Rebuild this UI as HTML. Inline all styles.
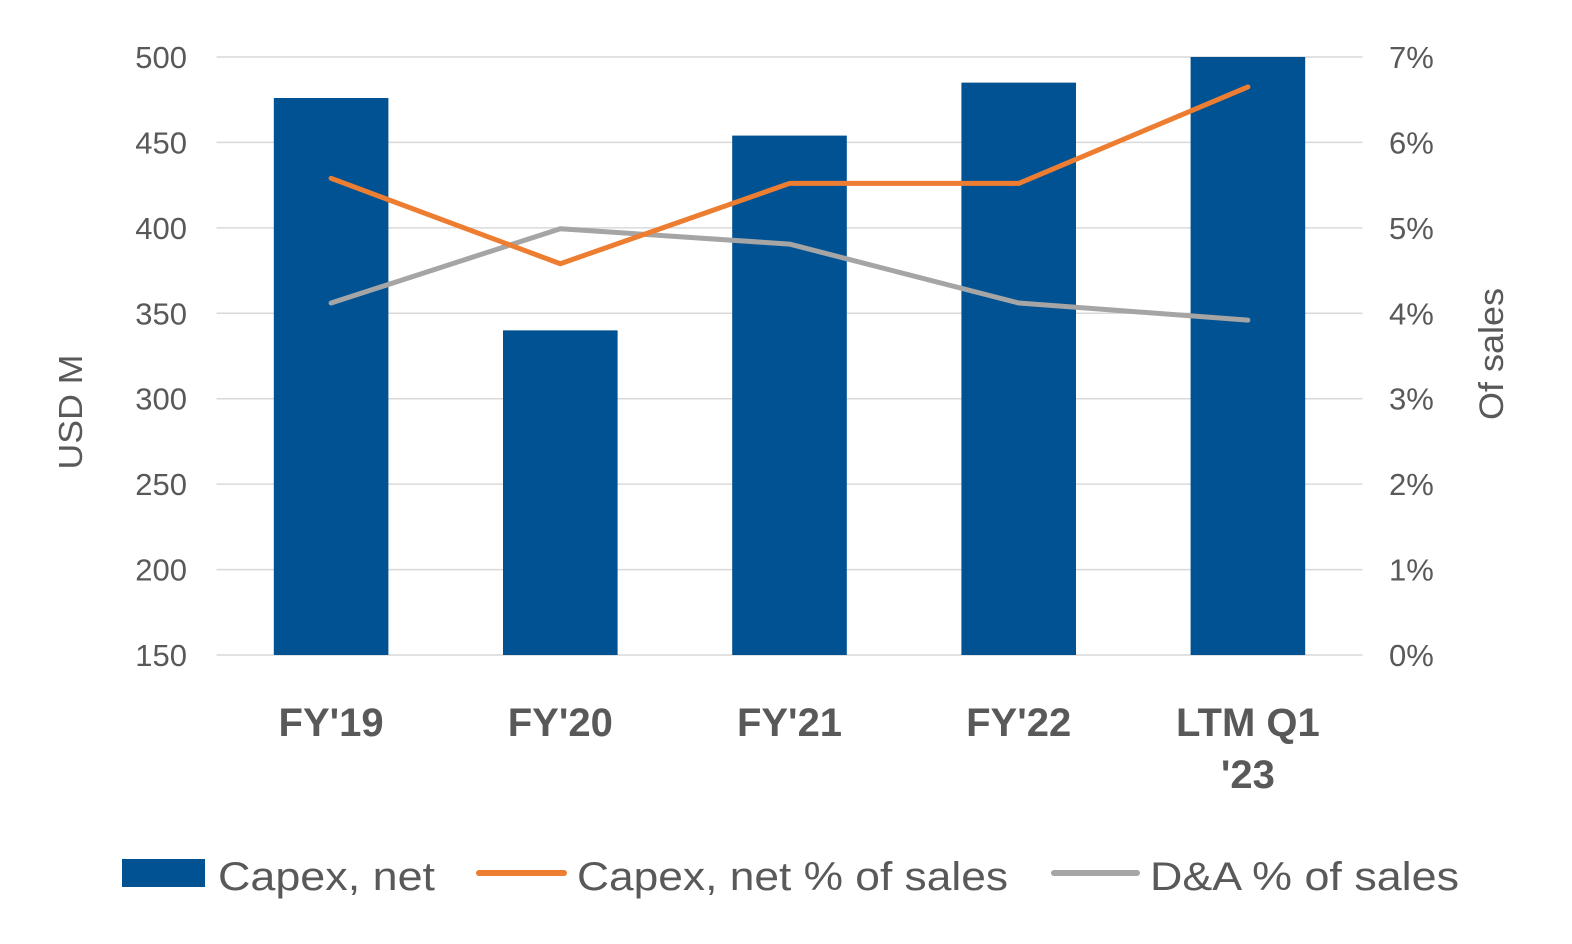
<!DOCTYPE html>
<html><head><meta charset="utf-8"><style>
html,body{margin:0;padding:0;background:#fff}
svg{display:block}
text{font-family:"Liberation Sans",sans-serif;fill:#595959}
</style></head><body>
<svg id="chart" width="1572" height="944" viewBox="0 0 1572 944">
<g id="grid"></g>
<g id="bars"></g>
<g id="lines"></g>
<g id="axes"></g>
<text transform="translate(82,412) rotate(-90)" text-anchor="middle" font-size="33" textLength="115" lengthAdjust="spacingAndGlyphs">USD M</text>
<text transform="translate(1503,354) rotate(-90)" text-anchor="middle" font-size="34" textLength="132" lengthAdjust="spacingAndGlyphs">Of sales</text>
<g>
<rect x="122" y="859" width="83" height="28" fill="#005293"/>
<text x="218" y="890" font-size="40" textLength="217" lengthAdjust="spacingAndGlyphs">Capex, net</text>
<line x1="479" y1="873" x2="564" y2="873" stroke="#ED7D31" stroke-width="6" stroke-linecap="round"/>
<text x="577" y="890" font-size="40" textLength="431" lengthAdjust="spacingAndGlyphs">Capex, net % of sales</text>
<line x1="1054" y1="873" x2="1137" y2="873" stroke="#A5A5A5" stroke-width="6" stroke-linecap="round"/>
<text x="1150" y="890" font-size="40" textLength="309" lengthAdjust="spacingAndGlyphs">D&amp;A % of sales</text>
</g>
</svg>
<script>
const categories=["FY'19","FY'20","FY'21","FY'22","LTM Q1|'23"];
const capex=[476,340,454,485,500];
const capexPct=[5.58,4.58,5.52,5.52,6.65];
const daPct=[4.12,4.99,4.81,4.12,3.92];
const leftTicks=[150,200,250,300,350,400,450,500];
const rightTicks=[0,1,2,3,4,5,6,7];

const NS="http://www.w3.org/2000/svg";
const X0=216.5,X1=1362.5,Y0=655,Y1=57;
const band=(X1-X0)/categories.length;
const xc=i=>X0+band*(i+0.5);
const yL=v=>Y0-(v-150)/(500-150)*(Y0-Y1);
const yR=v=>Y0-v/7*(Y0-Y1);
function mk(tag,attrs,parent){const e=document.createElementNS(NS,tag);for(const k in attrs)e.setAttribute(k,attrs[k]);parent.appendChild(e);return e;}
const grid=document.getElementById('grid'),bars=document.getElementById('bars'),lines=document.getElementById('lines'),axes=document.getElementById('axes');
leftTicks.forEach((t,i)=>{
  const l=mk('line',{x1:X0,x2:X1,y1:yL(t),y2:yL(t),stroke:'#D9D9D9','stroke-width':1.5},grid);
  
  
  const tx=mk('text',{x:187,y:yL(t)+11,'text-anchor':'end','font-size':31},axes);
  tx.textContent=t;
  
  
});
rightTicks.forEach(t=>{
  const tx=mk('text',{x:1389,y:yR(t)+11,'font-size':31},axes);
  tx.textContent=t+'%';
  
  
});
capex.forEach((v,i)=>{
  const w=band*0.5;
  const r=mk('rect',{x:xc(i)-w/2,y:yL(v),width:w,height:Y0-yL(v),fill:'#005293'},bars);
  
  
});
categories.forEach((c,i)=>{
  c.split('|').forEach((s,j)=>{
    const tx=mk('text',{x:xc(i),y:736+j*52,'text-anchor':'middle','font-size':40,'font-weight':'bold'},axes);
    tx.textContent=s;
    
    
  });
});
function line(vals,color,name){
  const p=mk('polyline',{points:vals.map((v,i)=>xc(i)+','+yR(v)).join(' '),fill:'none',stroke:color,'stroke-width':5,'stroke-linejoin':'round','stroke-linecap':'round'},lines);
  
  
}
line(daPct,'#A5A5A5','line-da-pct');
line(capexPct,'#ED7D31','line-capex-pct');
</script>
</body></html>
